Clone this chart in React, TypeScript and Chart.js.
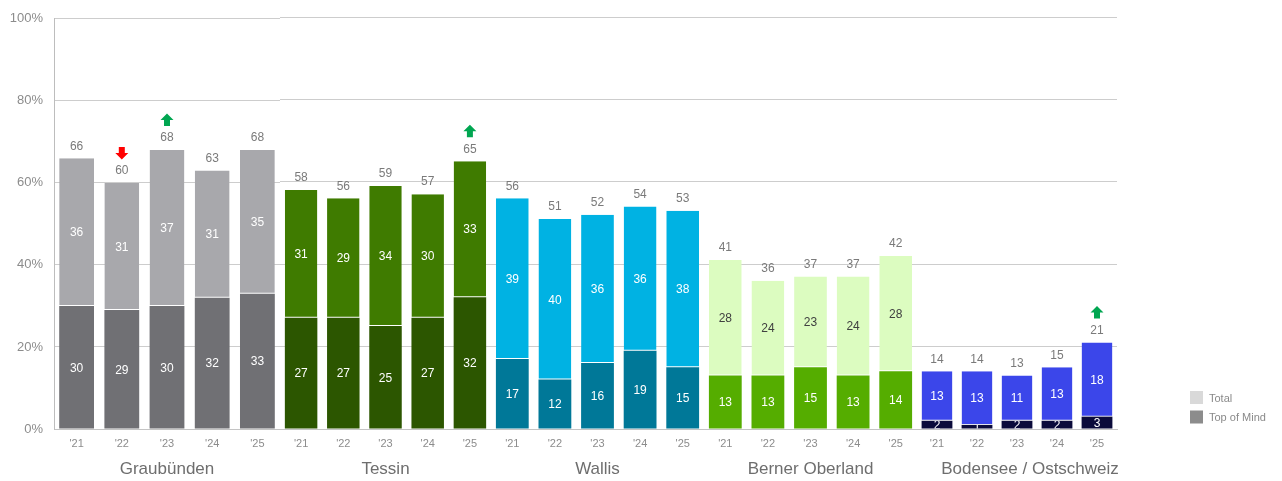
import React, { useEffect, useRef } from "react";
import { Chart, registerables } from "chart.js";

Chart.register(...registerables);
Chart.defaults.font.family = '"Liberation Sans", Arial, Helvetica, sans-serif';

// ---------- data ----------
const YEARS = ["'21", "'22", "'23", "'24", "'25"];
const Y_TICKS = [0, 20, 40, 60, 80, 100];
const REGIONS = ["Graubünden", "Tessin", "Wallis", "Berner Oberland", "Bodensee / Ostschweiz"];
const LEGEND_LABELS = ["Total", "Top of Mind"];

const graubuendenTotal = [66, 60, 68, 63, 68];
const graubuendenTopOfMind = [30, 29, 30, 32, 33];
const graubuendenRest = [36, 31, 37, 31, 35];
const graubuendenTrend = [0, -1, 1, 0, 0];

const tessinTotal = [58, 56, 59, 57, 65];
const tessinTopOfMind = [27, 27, 25, 27, 32];
const tessinRest = [31, 29, 34, 30, 33];
const tessinTrend = [0, 0, 0, 0, 1];

const wallisTotal = [56, 51, 52, 54, 53];
const wallisTopOfMind = [17, 12, 16, 19, 15];
const wallisRest = [39, 40, 36, 36, 38];
const wallisTrend = [0, 0, 0, 0, 0];

const bernerTotal = [41, 36, 37, 37, 42];
const bernerTopOfMind = [13, 13, 15, 13, 14];
const bernerRest = [28, 24, 23, 24, 28];
const bernerTrend = [0, 0, 0, 0, 0];

const bodenseeTotal = [14, 14, 13, 15, 21];
const bodenseeTopOfMind = [2, 1, 2, 2, 3];
const bodenseeRest = [13, 13, 11, 13, 18];
const bodenseeTrend = [0, 0, 0, 0, 1];

// ---------- panel styling / layout ----------
type Panel = {
  name: string;
  total: number[];
  tom: number[];
  rest: number[];
  trend: number[];
  restColor: string;
  tomColor: string;
  restLabelColor: string;
  left: number;
  width: number;
  padRight: number;
  labelShift: number;
  showYAxis: boolean;
  legend: boolean;
};

const PANELS: Panel[] = [
  {
    name: REGIONS[0], total: graubuendenTotal, tom: graubuendenTopOfMind, rest: graubuendenRest, trend: graubuendenTrend,
    restColor: "#a8a8ac", tomColor: "#707074", restLabelColor: "#ffffff",
    left: 0, width: 280, padRight: 0, labelShift: 0, showYAxis: true, legend: false,
  },
  {
    name: REGIONS[1], total: tessinTotal, tom: tessinTopOfMind, rest: tessinRest, trend: tessinTrend,
    restColor: "#3f7b00", tomColor: "#2c5600", restLabelColor: "#ffffff",
    left: 280, width: 211, padRight: 0, labelShift: 0, showYAxis: false, legend: false,
  },
  {
    name: REGIONS[2], total: wallisTotal, tom: wallisTopOfMind, rest: wallisRest, trend: wallisTrend,
    restColor: "#00b2e3", tomColor: "#007898", restLabelColor: "#ffffff",
    left: 491, width: 213, padRight: 0, labelShift: 0, showYAxis: false, legend: false,
  },
  {
    name: REGIONS[3], total: bernerTotal, tom: bernerTopOfMind, rest: bernerRest, trend: bernerTrend,
    restColor: "#dcfcc0", tomColor: "#55ad00", restLabelColor: "#404040",
    left: 704, width: 213, padRight: 0, labelShift: 0, showYAxis: false, legend: false,
  },
  {
    name: REGIONS[4], total: bodenseeTotal, tom: bodenseeTopOfMind, rest: bodenseeRest, trend: bodenseeTrend,
    restColor: "#3b46ea", tomColor: "#0b0b3b", restLabelColor: "#ffffff",
    left: 917, width: 365, padRight: 165, labelShift: 13, showYAxis: false, legend: true,
  },
];

const FONT = '"Liberation Sans", Arial, Helvetica, sans-serif';
const H = 481;

function drawArrow(ctx: CanvasRenderingContext2D, x: number, cy: number, dir: number, color: string) {
  const d = dir > 0 ? -1 : 1; // up => tip at smaller y
  ctx.beginPath();
  ctx.moveTo(x, cy + 6.5 * d);
  ctx.lineTo(x + 6.5, cy);
  ctx.lineTo(x + 3, cy);
  ctx.lineTo(x + 3, cy - 6 * d);
  ctx.lineTo(x - 3, cy - 6 * d);
  ctx.lineTo(x - 3, cy);
  ctx.lineTo(x - 6.5, cy);
  ctx.closePath();
  ctx.fillStyle = color;
  ctx.fill();
}

function makePlugin(p: Panel) {
  return {
    id: "panelLabels",
    afterDatasetsDraw(chart: any) {
      const ctx: CanvasRenderingContext2D = chart.ctx;
      const m0 = chart.getDatasetMeta(0);
      const m1 = chart.getDatasetMeta(1);
      ctx.save();
      ctx.textAlign = "center";
      ctx.textBaseline = "middle";
      ctx.font = `12px ${FONT}`;
      for (let i = 0; i < p.total.length; i++) {
        const b0: any = m0.data[i];
        const b1: any = m1.data[i];
        const w = b0.width;
        // Top of Mind label (clipped to its segment)
        ctx.save();
        ctx.beginPath();
        ctx.rect(b0.x - w / 2, b0.y, w, b0.base - b0.y);
        ctx.clip();
        ctx.fillStyle = "#ffffff";
        ctx.fillText(String(p.tom[i]), b0.x, (b0.y + b0.base) / 2 + 1);
        ctx.restore();
        // rest label
        ctx.save();
        ctx.beginPath();
        ctx.rect(b1.x - w / 2, b1.y, w, b1.base - b1.y);
        ctx.clip();
        ctx.fillStyle = p.restLabelColor;
        ctx.fillText(String(p.rest[i]), b1.x, (b1.y + b1.base) / 2 + 1);
        ctx.restore();
        // total label
        ctx.fillStyle = "#7a7a7a";
        ctx.fillText(String(p.total[i]), b1.x, b1.y - 12);
        if (p.trend[i] !== 0) {
          drawArrow(ctx, b1.x, b1.y - 30, p.trend[i], p.trend[i] > 0 ? "#00a651" : "#ff0000");
        }
      }
      // group label
      const ca = chart.chartArea;
      ctx.font = `17px ${FONT}`;
      ctx.fillStyle = "#6e6e6e";
      ctx.fillText(p.name, (ca.left + ca.right) / 2 + p.labelShift, 469);
      // legend
      if (p.legend) {
        const colors = ["#d9d9d9", "#8c8c8c"];
        const bx = 1190 - p.left;
        ctx.font = `11px ${FONT}`;
        ctx.textAlign = "left";
        LEGEND_LABELS.forEach((lab, k) => {
          const by = 391 + k * 19.5;
          ctx.fillStyle = colors[k];
          ctx.fillRect(bx, by, 13, 13);
          ctx.fillStyle = "#8a8a8a";
          ctx.fillText(lab, bx + 19, by + 7.5);
        });
      }
      ctx.restore();
    },
  };
}

function PanelChart({ p }: { p: Panel }) {
  const ref = useRef<HTMLCanvasElement>(null);
  useEffect(() => {
    if (!ref.current) return;
    const chart = new Chart(ref.current, {
      type: "bar",
      data: {
        labels: YEARS,
        datasets: [
          {
            label: LEGEND_LABELS[1],
            data: p.tom,
            backgroundColor: p.tomColor,
            borderWidth: 0,
            barPercentage: 0.77,
            categoryPercentage: 1,
          },
          {
            label: LEGEND_LABELS[0],
            data: p.total.map((t, i) => t - p.tom[i]),
            backgroundColor: p.restColor,
            borderColor: "#ffffff",
            borderWidth: { top: 0, left: 0, right: 0, bottom: 1 },
            borderSkipped: false,
            barPercentage: 0.77,
            categoryPercentage: 1,
          },
        ],
      },
      options: {
        responsive: false,
        animation: false,
        layout: { padding: { top: 17, right: p.padRight, bottom: 0, left: 0 } },
        plugins: { legend: { display: false }, tooltip: { enabled: false } },
        scales: {
          x: {
            stacked: true,
            grid: { display: false },
            border: { display: true, color: "#c4c4c4" },
            ticks: { color: "#8c8c8c", font: { size: 11 }, padding: 0, maxRotation: 0, autoSkip: false },
            afterFit: (s: any) => { s.height = 52; },
          },
          y: {
            stacked: true,
            min: 0,
            max: 100,
            afterBuildTicks: (s: any) => { s.ticks = Y_TICKS.map((v) => ({ value: v })); },
            ticks: {
              display: p.showYAxis,
              color: "#8c8c8c",
              font: { size: 13 },
              padding: 11,
              callback: (v: any) => `${v}%`,
            },
            grid: { color: "#cdcdcd", drawTicks: false },
            border: { display: p.showYAxis, color: "#bdbdbd" },
            afterFit: (s: any) => { s.width = p.showYAxis ? 54 : 0; },
          },
        },
      } as any,
      plugins: [makePlugin(p)],
    });
    return () => chart.destroy();
  }, [p]);
  return (
    <div style={{ position: "absolute", left: p.left, top: 0, width: p.width, height: H }}>
      <canvas ref={ref} width={p.width} height={H} style={{ width: p.width, height: H, display: "block" }} />
    </div>
  );
}

export default function App() {
  return (
    <div style={{ position: "fixed", left: 0, top: 0, width: 1282, height: H, background: "#ffffff", overflow: "hidden" }}>
      {PANELS.map((p) => (
        <PanelChart key={p.name} p={p} />
      ))}
    </div>
  );
}
